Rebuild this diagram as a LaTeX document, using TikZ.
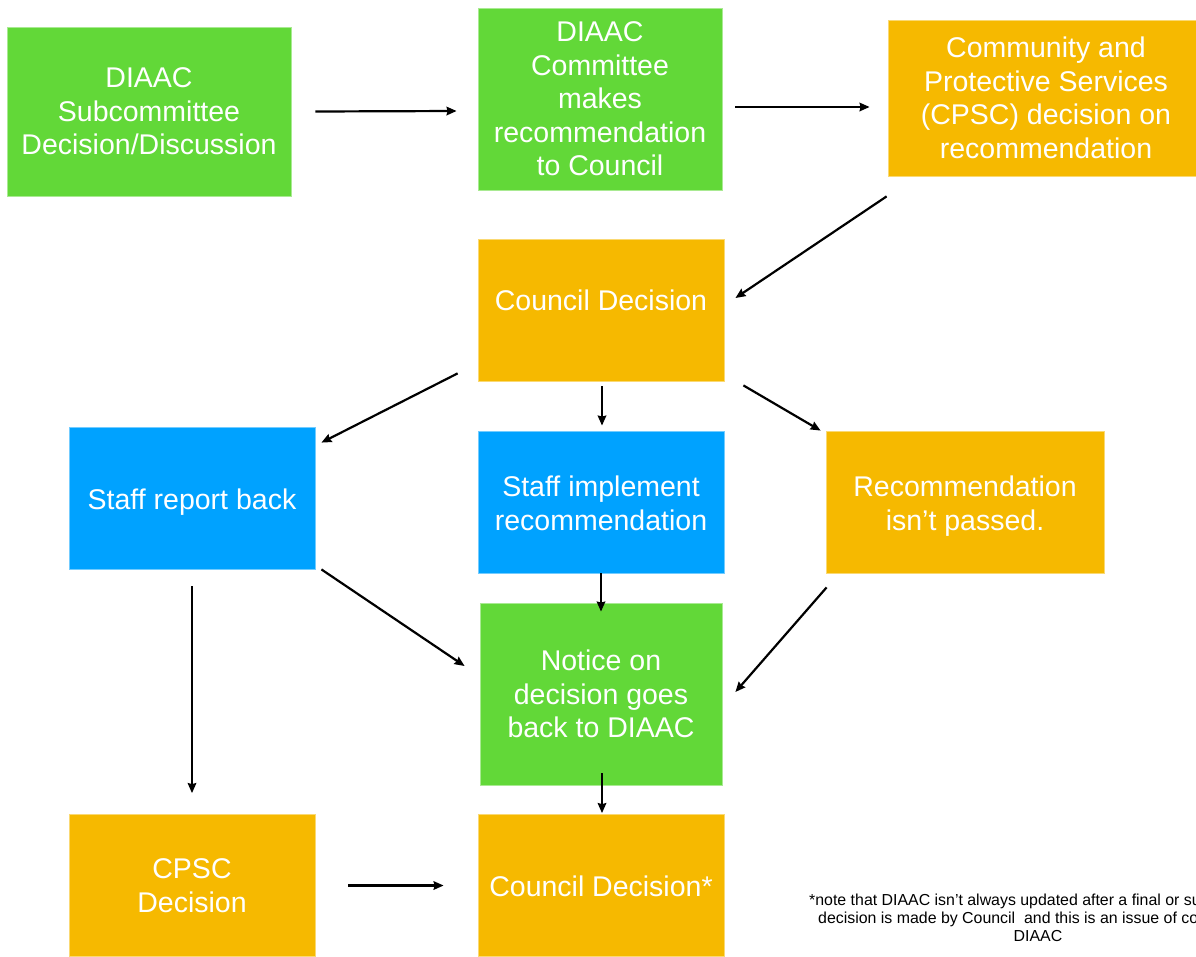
\documentclass[tikz,border=0pt]{standalone}
\usepackage{fontspec}
\setmainfont{Liberation Sans}
\usetikzlibrary{arrows.meta}
\definecolor{dgreen}{HTML}{62D838}
\definecolor{dorange}{HTML}{F6B900}
\definecolor{dblue}{HTML}{00A2FF}
\begin{document}
\begin{tikzpicture}[x=1pt, y=-1pt,
    box/.style={fill=#1, draw=#1!55!white, line width=.8pt, text=white,
      align=center, inner sep=0pt,
      font=\fontsize{28.5}{33.5}\selectfont},
    arr/.style={line width=2.2pt, -{Stealth[length=10pt, width=8.5pt, inset=1pt]}},
    note/.style={inner sep=0pt, font=\fontsize{15.9}{18}\selectfont}]
        \useasboundingbox (0,0) rectangle (1196,956);
        % top row
        \node [box=dgreen, minimum width=284pt, minimum height=169pt] (sub) at (149,111.5)
          {DIAAC\\Subcommittee\\Decision/Discussion};
        \node [box=dgreen, minimum width=244pt, minimum height=182pt] (comm) at (600,99)
          {DIAAC\\Committee\\makes\\recommendation\\to Council};
        \node [box=dorange, minimum width=316pt, minimum height=156pt] (cpsc) at (1046,98)
          {Community and\\Protective Services\\(CPSC) decision on\\recommendation};
        % council
        \node [box=dorange, minimum width=246pt, minimum height=142pt,
          text height=14pt, text depth=14pt] (council) at (601,310) {Council Decision};
        % middle row
        \node [box=dblue, minimum width=246pt, minimum height=142pt,
          text height=27pt, text depth=5pt] (report) at (192,498) {Staff report back};
        \node [box=dblue, minimum width=246pt, minimum height=142pt,
          text height=60pt, text depth=4pt] (implement) at (601,502)
          {Staff implement\\recommendation};
        \node [box=dorange, minimum width=278pt, minimum height=142pt,
          text height=60pt, text depth=4pt] (notpassed) at (965,502)
          {Recommendation\\isn’t passed.};
        \node [box=dgreen, minimum width=242pt, minimum height=182pt] (notice) at (601,694)
          {Notice on\\decision goes\\back to DIAAC};
        % bottom row
        \node [box=dorange, minimum width=246pt, minimum height=142pt] (cpscdec) at (192,885.5)
          {CPSC\\Decision};
        \node [box=dorange, minimum width=246pt, minimum height=142pt,
          text height=26pt, text depth=5pt] (council2) at (601,885.5) {Council Decision*};
        % note
        \node [note, anchor=base west] (note1) at (809,905)
          {*note that DIAAC isn’t always updated after a final or su};
        \node [note, anchor=base west] (note2) at (818,923)
          {decision is made by Council\ \ and this is an issue of co};
        \node [note, anchor=base] (note3) at (1038,941) {DIAAC};
        % arrows
        \draw [arr] ([shift={(24,0)}]sub.east) -- ([shift={(-21,12)}]comm.west);
        \draw [arr] ([shift={(13,8)}]comm.east) -- ([shift={(-18,9)}]cpsc.west);
        \draw [arr] ([shift={(-1,20)}]cpsc.south west) -- ([shift={(11,-12)}]council.east);
        \draw [arr] ([shift={(-20,-8)}]council.south west) -- ([shift={(6,16)}]report.north east);
        \draw [arr] ([shift={(1,5)}]council.south) -- ([shift={(1,-5)}]implement.north);
        \draw [arr] ([shift={(19,4)}]council.south east) -- ([shift={(-5,0)}]notpassed.north west);
        \draw [arr] ([shift={(6,0)}]report.south east) -- ([shift={(-15,-28)}]notice.west);
        \draw [arr] (implement.south) -- ([shift={(0,9)}]notice.north);
        \draw [arr] ([shift={(1,14)}]notpassed.south west) -- ([shift={(13,-2)}]notice.east);
        \draw [arr] ([shift={(0,17)}]report.south) -- ([shift={(0,-21)}]cpscdec.north);
        \draw [arr] ([shift={(1,-12)}]notice.south) -- ([shift={(1,-1)}]council2.north);
        \draw [arr] ([shift={(33,0)}]cpscdec.east) -- ([shift={(-34,0)}]council2.west);
      \end{tikzpicture}
\end{document}
